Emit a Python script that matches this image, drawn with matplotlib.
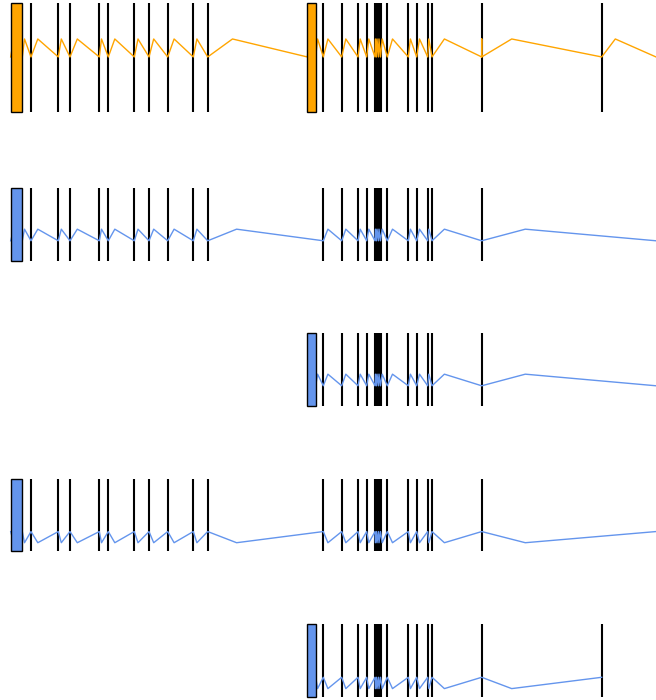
import matplotlib
matplotlib.use("Agg")
import matplotlib.pyplot as plt

# --- event times (same unit as the x range 0..656) ---
left_ticks = [31, 58.3, 70, 99.3, 108.3, 134.3, 149, 167.7, 193.3, 207.7]
right_ticks = [323.3, 341.7, 358, 366.7, 375, 376.5, 378.5, 380.5, 387.3,
               408.3, 416.7, 427.7, 432, 481.7]
late_tick = [601.7]

left_span = (10.7, 22.3)
right_span = (307.3, 315.7)

# zigzag vertices: event, peak, event, peak, ...
left_path = [10.7, 13.6, 22.3, 24.5, 31, 37.8, 58.3, 61.3, 70, 77.3,
             99.3, 101.5, 108.3, 114.8, 134.3, 138, 149, 153.7,
             167.7, 174.1, 193.3, 196.9, 207.7]
span_path = [315.7, 317.6]
right_path = [323.3, 327.9, 341.7, 345.8, 358, 360.2, 366.7, 368.8,
              375, 375.4, 376.5, 377, 378.5, 379, 380.5, 382.2,
              387.3, 392.5, 408.3, 410.4, 416.7, 419.5, 427.7, 428.8,
              432, 444.4, 481.7]

row1_path = (left_path + [232.5, 307.3, 309.4] + span_path + right_path
             + [481.7, 481.7, 511.7, 601.7, 615.3, 656])
row2_path = left_path + [236.6] + right_path + [525.3, 656]
row3_path = span_path + right_path + [525.3, 656]
row4_path = left_path + [236.6] + right_path + [525.3, 656]
row5_path = span_path + right_path + [511.7, 601.7]

# (event level, peak level) per row, as fraction of the row height
levels = [(0.505, 0.67), (0.277, 0.436), (0.277, 0.436),
          (0.27, 0.115), (0.27, 0.115)]

ORANGE = "#FFA500"
BLUE = "#6495ED"

rows = [
    dict(ticks=left_ticks + right_ticks + late_tick, spans=[left_span, right_span],
         path=row1_path, color=ORANGE, px=(3, 112)),
    dict(ticks=left_ticks + right_ticks, spans=[left_span],
         path=row2_path, color=BLUE, px=(188, 261)),
    dict(ticks=right_ticks, spans=[right_span],
         path=row3_path, color=BLUE, px=(333, 406)),
    dict(ticks=left_ticks + right_ticks, spans=[left_span],
         path=row4_path, color=BLUE, px=(479, 551)),
    dict(ticks=right_ticks + late_tick, spans=[right_span],
         path=row5_path, color=BLUE, px=(624, 697)),
]

W, H = 656, 700
fig = plt.figure(figsize=(W / 100, H / 100), dpi=100)

for row, (base, peak) in zip(rows, levels):
    top, bot = row["px"]
    ax = fig.add_axes([0, 1 - bot / H, 1, (bot - top) / H])
    ax.set_xlim(0, W)
    ax.set_ylim(0, 1)
    ax.axis("off")

    ax.vlines(row["ticks"], 0, 1, color="black", lw=1.5, zorder=1)

    ys = [base if i % 2 == 0 else peak for i in range(len(row["path"]))]
    ax.plot(row["path"], ys, color=row["color"], lw=1.0, zorder=2)

    for x0, x1 in row["spans"]:
        ax.axvspan(x0, x1, facecolor=row["color"], edgecolor="black",
                   lw=1.0, zorder=3, clip_on=False)

fig.savefig("out.png", dpi=100)
